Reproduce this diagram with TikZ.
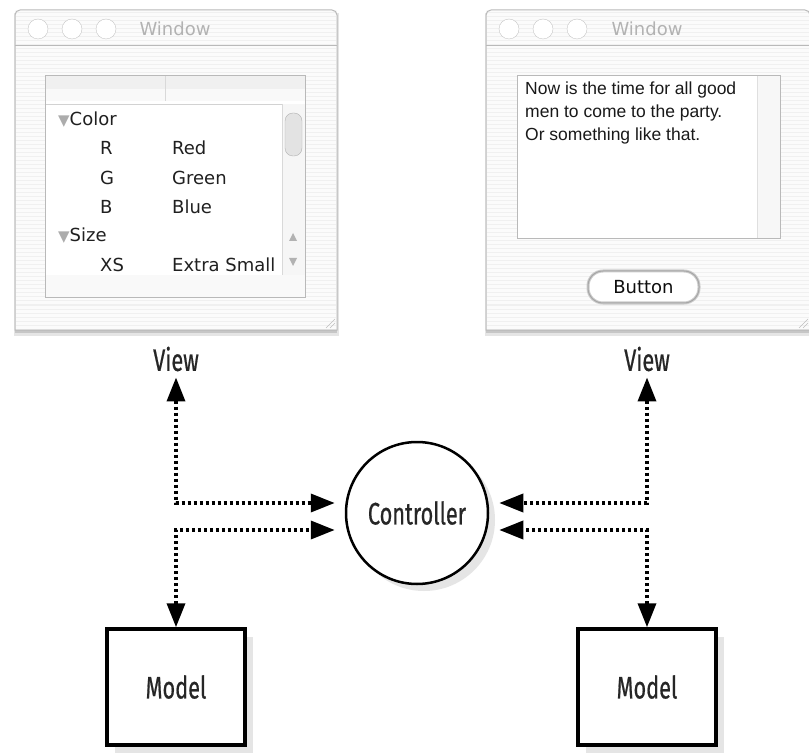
\documentclass[tikz,border=0pt]{standalone}
\usepackage{fontspec}
\usetikzlibrary{arrows.meta,shadows}
\newfontfamily\labelfont[FakeStretch=0.7,FakeBold=0.6]{Fira Sans}
\newfontfamily\aquafont{DejaVu Sans}
\newfontfamily\helvfont{Liberation Sans}
\begin{document}
\begin{tikzpicture}[x=1pt, y=-1pt, >={Triangle[length=24pt,width=18pt]},
  lbl/.style={font=\labelfont\fontsize{31}{36}\selectfont, inner sep=2pt, text=black!85},
  ctrlnode/.style={lbl, circle, draw, line width=2.5pt, fill=white, minimum size=142pt,
    drop shadow={shadow xshift=7pt, shadow yshift=-7pt, fill=gray!20, opacity=1}},
  modelbox/.style={lbl, draw, line width=3.5pt, fill=white, minimum width=138pt, minimum height=116pt,
    drop shadow={shadow xshift=8pt, shadow yshift=-8pt, fill=gray!20, opacity=1}},
  link/.style={line width=3.5pt, line cap=butt, dash pattern=on 3pt off 3pt, shorten >=10pt},
  frame/.style={draw=gray!55, line width=1pt},
  stripe/.style={draw=gray!12, line width=1pt},
  aqua/.style={font=\aquafont\fontsize{18}{22}\selectfont, text=gray!25!black, inner sep=0pt},
  helv/.style={font=\helvfont\fontsize{17.5}{21}\selectfont, text=gray!20!black, inner sep=0pt, anchor=west},
]
\useasboundingbox (0,0) rectangle (809,754);
\fill[white] (0,0) rectangle (809,754);

% Window chrome (both windows)
\foreach \wl/\wr in {15/337, 486/810} {
  \fill[gray!20] (\wl-1,13) rectangle (\wr+2,336);
  \fill[gray!45] (\wl,12) rectangle (\wr,333);
  \fill[gray!3] (\wl,10) rectangle (\wr,330);
  \foreach \y in {13,17,...,329} \draw[stripe] (\wl+1,\y) -- (\wr-1,\y);
  \draw[gray!55] (\wl,45) -- (\wr,45);
  \draw[frame] (\wl,330) -- (\wl,15) [rounded corners=5pt] -- (\wl,10) -- (\wr,10) [sharp corners] -- (\wr,330) -- cycle;
  \foreach \dx in {23,57,91}
    \draw[gray!45, fill=white] (\wl+\dx,29) circle (10);
  \draw[gray!50] (\wr-11,328) -- (\wr-2,319) (\wr-7,328) -- (\wr-2,323);
}
\node[aqua, text=gray!60] (titleL) at (175,29) {Window};
\node[aqua, text=gray!60] (titleR) at (647,29) {Window};

% Outline view (left window)
\fill[white] (45,76) rectangle (305,298);
\fill[gray!12] (45,76) rectangle (305,89);
\fill[gray!5] (45,89) rectangle (305,101);
\draw[gray!30] (165,76) -- (165,101);
\draw[gray!35] (45,104) -- (282,104);
\fill[gray!5] (45,275) rectangle (305,298);
\fill[gray!7] (282,104) rectangle (305,275);
\draw[gray!30] (282,104) -- (282,275);
\draw[gray!60, fill=gray!22, rounded corners=8pt] (285,113) rectangle (302,156);
\fill[gray!60] (293,233) -- (289,241) -- (297,241) -- cycle;
\fill[gray!60] (293,266) -- (289,258) -- (297,258) -- cycle;
\draw[frame] (45,76) rectangle (305,298);

\node[aqua, anchor=west] (color) at (58,120) {{\fontsize{15}{15}\selectfont\color{gray!65}▼}Color};
\node[aqua, anchor=west] (size) at (58,236) {{\fontsize{15}{15}\selectfont\color{gray!65}▼}Size};
\foreach \y/\a/\b in {148/R/Red, 178/G/Green, 207/B/Blue, 265/XS/Extra Small} {
  \node[aqua, anchor=west] (key\y) at (100,\y) {\a};
  \node[aqua, anchor=west] (val\y) at (172,\y) {\b};
}

% Text view and button (right window)
\fill[white] (517,76) rectangle (780,239);
\fill[gray!6] (757,76) rectangle (780,239);
\draw[gray!25] (757,76) -- (757,239);
\draw[frame] (517,76) rectangle (780,239);
\node[helv] (line1) at (525,90) {Now is the time for all good};
\node[helv] (line2) at (525,113) {men to come to the party.};
\node[helv] (line3) at (525,136) {Or something like that.};
\draw[gray!40, line width=3pt, fill=white, rounded corners=15pt] (588,271) rectangle (699,303);
\draw[gray!70, line width=1pt, rounded corners=15pt] (588,271) rectangle (699,303);
\node[aqua, text=gray!10!black] (button) at (643.5,287) {Button};

% MVC diagram
\node[lbl] (viewL) at (176,359) {View};
\node[lbl] (viewR) at (647,359) {View};
\node[ctrlnode] (ctrl) at (417,513) {Controller};
\node[modelbox] (modelL) at (176,687) {Model};
\node[modelbox] (modelR) at (647,687) {Model};

\draw[link, <->, shorten <=4pt] (viewL.south) |- ([yshift=10pt]ctrl.west);
\draw[link, <->] (modelL.north) |- ([yshift=-17pt]ctrl.west);
\draw[link, <->, shorten <=4pt] (viewR.south) |- ([yshift=10pt]ctrl.east);
\draw[link, <->] (modelR.north) |- ([yshift=-17pt]ctrl.east);

\end{tikzpicture}
\end{document}
